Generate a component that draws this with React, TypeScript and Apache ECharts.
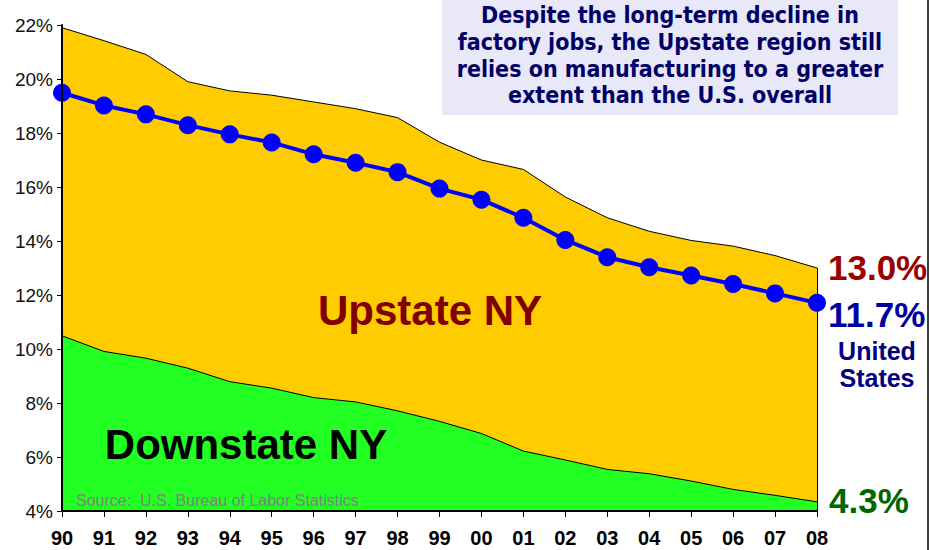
import React, { useEffect, useRef } from "react";
import * as echarts from "echarts";

const years = ["90","91","92","93","94","95","96","97","98","99","00","01","02","03","04","05","06","07","08"];
const upstate = [21.9,21.42,20.91,19.9,19.56,19.4,19.15,18.9,18.57,17.66,17.0,16.65,15.63,14.86,14.36,14.02,13.81,13.46,13.0];
const downstate = [10.49,9.91,9.66,9.29,8.79,8.55,8.2,8.04,7.71,7.32,6.87,6.22,5.89,5.54,5.38,5.11,4.8,4.58,4.34];
const unitedStates = [19.49,19.02,18.69,18.29,17.95,17.65,17.21,16.9,16.55,15.94,15.53,14.86,14.04,13.4,13.03,12.72,12.41,12.06,11.71];
const yMin = 4;
const yMax = 22;
const yStep = 2;

const titleLines = [
  "Despite the long-term decline in",
  "factory jobs, the Upstate region still",
  "relies on manufacturing to a greater",
  "extent than the U.S. overall",
];

const ARIAL = "'Liberation Sans', Arial, sans-serif";

export default function App() {
  const ref = useRef<HTMLDivElement>(null);
  useEffect(() => {
    document.body.style.margin = "0";
    const chart = echarts.init(ref.current!, null, { renderer: "svg" });
    const last = years.length - 1;
    chart.setOption({
      animation: false,
      backgroundColor: "#ffffff",
      grid: { left: 62, right: 113, top: 25, bottom: 39 },
      xAxis: {
        type: "category",
        data: years,
        boundaryGap: false,
        axisLine: { show: true, lineStyle: { color: "#000", width: 2 } },
        axisTick: { show: true, length: 6, lineStyle: { color: "#000", width: 1 } },
        axisLabel: { fontFamily: ARIAL, fontWeight: "bold", fontSize: 20, color: "#000", margin: 17 },
        splitLine: { show: false },
        z: 10,
      },
      yAxis: {
        type: "value",
        min: yMin,
        max: yMax,
        interval: yStep,
        axisLine: { show: true, lineStyle: { color: "#000", width: 2 } },
        axisTick: { show: true, length: 5, lineStyle: { color: "#000", width: 1 } },
        axisLabel: { fontFamily: ARIAL, fontSize: 19, color: "#111", margin: 9, formatter: "{value}%" },
        splitLine: { show: false },
        z: 10,
      },
      series: [
        {
          name: "Upstate NY",
          type: "line",
          data: upstate,
          symbol: "none",
          lineStyle: { color: "#000", width: 1 },
          areaStyle: { color: "#FFCC00", opacity: 1, origin: "start" },
          z: 1,
          markLine: {
            silent: true,
            symbol: "none",
            label: { show: false },
            lineStyle: { color: "#000", width: 1, type: "solid" },
            data: [[{ coord: [years[last], upstate[last]] }, { coord: [years[last], yMin] }]],
          },
        },
        {
          name: "Downstate NY",
          type: "line",
          data: downstate,
          symbol: "none",
          lineStyle: { color: "#000", width: 1 },
          areaStyle: { color: "#22FF22", opacity: 1, origin: "start" },
          z: 2,
        },
        {
          name: "United States",
          type: "line",
          data: unitedStates,
          symbol: "circle",
          symbolSize: 18,
          itemStyle: { color: "#0000FF" },
          lineStyle: { color: "#0000FF", width: 4 },
          z: 5,
        },
      ],
      graphic: [
        { type: "rect", shape: { x: 442, y: 0, width: 456, height: 115 }, style: { fill: "#E8E8F8" }, z: 20 },
        {
          type: "text", x: 670, y: 2, z: 21,
          style: {
            text: titleLines.join("\n"),
            fill: "#000066",
            font: "bold 23px 'DejaVu Sans Condensed', 'DejaVu Sans', sans-serif",
            textAlign: "center",
            textVerticalAlign: "top",
            lineHeight: 26.7,
          },
        },
        { type: "line", shape: { x1: 928, y1: 0, x2: 928, y2: 550 }, style: { stroke: "#000", lineWidth: 1.5 }, z: 20 },
        {
          type: "text", x: 430, y: 310, z: 21,
          style: { text: "Upstate NY", fill: "#800000", font: `bold 42px ${ARIAL}`, textAlign: "center", textVerticalAlign: "middle" },
        },
        {
          type: "text", x: 246, y: 444, z: 21,
          style: { text: "Downstate NY", fill: "#000", font: `bold 42px ${ARIAL}`, textAlign: "center", textVerticalAlign: "middle" },
        },
        {
          type: "text", x: 76, y: 500, z: 21,
          style: { text: "Source:  U.S. Bureau of Labor Statistics", fill: "#808080", font: `16px ${ARIAL}`, textAlign: "left", textVerticalAlign: "middle" },
        },
        {
          type: "text", x: 828, y: 267, z: 21,
          style: { text: `${upstate[last].toFixed(1)}%`, fill: "#990000", font: `bold 35px ${ARIAL}`, textAlign: "left", textVerticalAlign: "middle" },
        },
        {
          type: "text", x: 828, y: 314, z: 21,
          style: { text: `${unitedStates[last].toFixed(1)}%`, fill: "#0000A0", font: `bold 35px ${ARIAL}`, textAlign: "left", textVerticalAlign: "middle" },
        },
        {
          type: "text", x: 877, y: 351, z: 21,
          style: { text: "United", fill: "#000080", font: `bold 25px ${ARIAL}`, textAlign: "center", textVerticalAlign: "middle" },
        },
        {
          type: "text", x: 877, y: 378, z: 21,
          style: { text: "States", fill: "#000080", font: `bold 25px ${ARIAL}`, textAlign: "center", textVerticalAlign: "middle" },
        },
        {
          type: "text", x: 829, y: 500, z: 21,
          style: { text: `${downstate[last].toFixed(1)}%`, fill: "#006600", font: `bold 35px ${ARIAL}`, textAlign: "left", textVerticalAlign: "middle" },
        },
      ],
    });
    return () => chart.dispose();
  }, []);
  return <div ref={ref} style={{ width: 930, height: 550 }} />;
}
